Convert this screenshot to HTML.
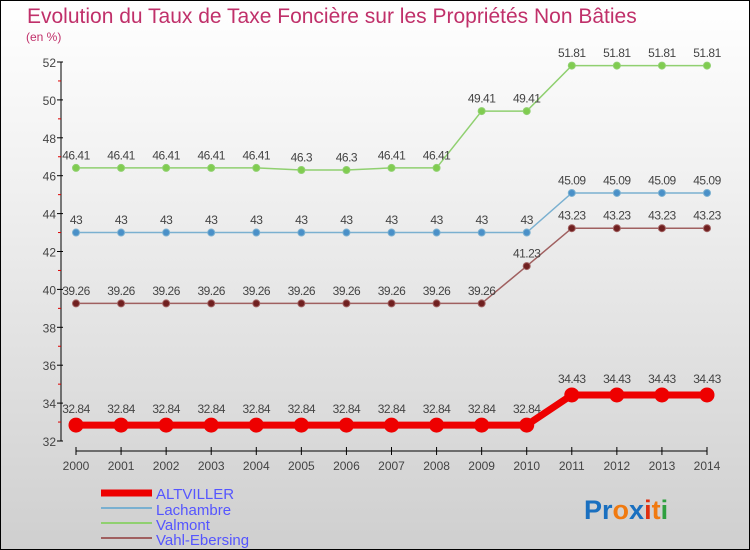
<!DOCTYPE html>
<html><head><meta charset="utf-8"><style>
body{margin:0}
#c{position:relative;width:748px;height:548px;border:1px solid #000;background:linear-gradient(#fff,#f2f2f2 30%,#cfcfcf);overflow:hidden;font-family:"Liberation Sans",sans-serif}
</style></head><body>
<div id="c">
<svg id="s" width="748" height="548">
<text x="26" y="22" font-size="21" fill="#c0306a">Evolution du Taux de Taxe Foncière sur les Propriétés Non Bâties</text>
<text x="25" y="40" font-size="12" fill="#c0306a">(en %)</text>
<g id="ax"></g><g id="ser"></g>
<g>
<line x1="100" y1="492" x2="151" y2="492" stroke="#e00" stroke-width="7"/>
<text x="155" y="498" font-size="15" fill="#55f">ALTVILLER</text>
<line x1="100" y1="507" x2="151" y2="507" stroke="#7ab0d0" stroke-width="2"/>
<text x="155" y="514" font-size="15" fill="#55f">Lachambre</text>
<line x1="100" y1="522" x2="151" y2="522" stroke="#90d070" stroke-width="2"/>
<text x="155" y="529" font-size="15" fill="#55f">Valmont</text>
<line x1="100" y1="537" x2="151" y2="537" stroke="#a06060" stroke-width="2"/>
<text x="155" y="544" font-size="15" fill="#55f">Vahl-Ebersing</text>
</g>
<text x="583" y="518" font-size="27" font-weight="bold"><tspan fill="#1a70c0">Pr</tspan><tspan fill="#f07a10">o</tspan><tspan fill="#1a70c0">x</tspan><tspan fill="#e03010">i</tspan><tspan fill="#f07a10">t</tspan><tspan fill="#30a040">i</tspan></text>
</svg></div>
<script>
const years=[2000,2001,2002,2003,2004,2005,2006,2007,2008,2009,2010,2011,2012,2013,2014];
const altviller=[32.84,32.84,32.84,32.84,32.84,32.84,32.84,32.84,32.84,32.84,32.84,34.43,34.43,34.43,34.43];
const lachambre=[43,43,43,43,43,43,43,43,43,43,43,45.09,45.09,45.09,45.09];
const valmont=[46.41,46.41,46.41,46.41,46.41,46.3,46.3,46.41,46.41,49.41,49.41,51.81,51.81,51.81,51.81];
const vahl=[39.26,39.26,39.26,39.26,39.26,39.26,39.26,39.26,39.26,39.26,41.23,43.23,43.23,43.23,43.23];
const yTicks=[32,34,36,38,40,42,44,46,48,50,52];
const NS="http://www.w3.org/2000/svg";
function xS(i){return 75+(706-75)*i/(years.length-1);}
function yS(v){return 440-(v-32)*(440-61)/20;}
function mk(t,a,p){const e=document.createElementNS(NS,t);for(const k in a)e.setAttribute(k,a[k]);p.appendChild(e);return e;}
const ax=document.getElementById('ax');
let l=mk('line',{x1:60,y1:61,x2:60,y2:440,stroke:'#000'},ax);


l=mk('line',{x1:75,y1:450,x2:706,y2:450,stroke:'#000'},ax);


yTicks.forEach((v,i)=>{const y=yS(v);mk('line',{x1:56,y1:y,x2:62,y2:y,stroke:'#000'},ax);
 if(i<yTicks.length-1)mk('line',{x1:57,y1:yS(v+1),x2:60,y2:yS(v+1),stroke:'#d00'},ax);
 const t=mk('text',{x:55,y:y+5,'font-size':12,fill:'#444','text-anchor':'end'},ax);t.textContent=v;
 
 });
years.forEach((yr,i)=>{const x=xS(i);mk('line',{x1:x,y1:446,x2:x,y2:454,stroke:'#000'},ax);
 const t=mk('text',{x:x,y:469,'font-size':12,fill:'#444','text-anchor':'middle'},ax);t.textContent=yr;
 
 });
const ser=document.getElementById('ser');
function draw(vals,col,dot,w,r,name,fmt){
 const g=mk('g',{},ser);
 
 
 const p=mk('polyline',{points:vals.map((v,i)=>xS(i)+','+yS(v)).join(' '),fill:'none',stroke:col,'stroke-width':w},g);
 
 
 vals.forEach((v,i)=>{const c=mk('circle',{cx:xS(i),cy:yS(v),r:r,fill:dot,stroke:col,'stroke-width':1},g);
  
  
  const t=mk('text',{x:xS(i),y:yS(v)-(r+5),'font-size':12,fill:'#444','text-anchor':'middle','letter-spacing':'-0.5'},g);t.textContent=fmt(v);
  
  });
}
const f=v=>String(v);
draw(valmont,'#90d070','#80cc50',1.5,3.5,'valmont',f);
draw(lachambre,'#7ab0d0','#4a90c8',1.5,3.5,'lachambre',f);
draw(vahl,'#a06060','#702020',1.5,3.5,'vahl-ebersing',f);
draw(altviller,'#e00','#e00',7,7,'altviller',f);
</script>
</body></html>
